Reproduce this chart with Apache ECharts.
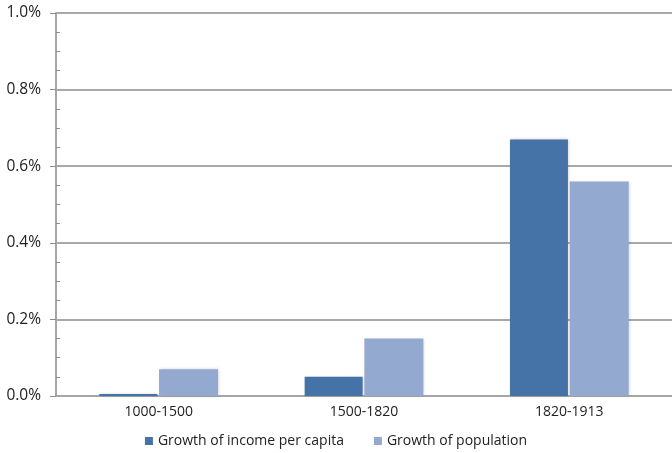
<!DOCTYPE html>
<html>
<head>
<meta charset="utf-8">
<script src="https://cdn.jsdelivr.net/npm/echarts@6/dist/echarts.min.js"></script>
<style>
  html, body { margin: 0; padding: 0; background: #fff; }
  #chart { width: 672px; height: 453px; }
</style>
</head>
<body>
<div id="chart"></div>
<script>
// Average annual growth rates by period (percent)
const periods = ['1000-1500', '1500-1820', '1820-1913'];
const incomePerCapita = [0.005, 0.05, 0.67];
const population = [0.07, 0.15, 0.56];
const seriesNames = ['Growth of income per capita', 'Growth of population'];

const font = '"Open Sans", "Liberation Sans", sans-serif';

const chart = echarts.init(document.getElementById('chart'));
chart.setOption({
  animation: false,
  textStyle: { fontFamily: font },
  grid: { left: 56, right: -3, top: 13, bottom: 57 },
  legend: {
    bottom: 0,
    left: 'center',
    itemWidth: 8,
    itemHeight: 8,
    itemGap: 30,
    icon: 'rect',
    textStyle: { fontSize: 14, color: '#222', fontFamily: font },
    data: seriesNames
  },
  xAxis: {
    type: 'category',
    data: periods,
    axisLine: { lineStyle: { color: '#a6a6a6', width: 2 } },
    axisTick: { show: false },
    axisLabel: { fontSize: 14, color: '#222', margin: 9, fontFamily: font }
  },
  yAxis: [{
    type: 'value',
    min: 0,
    max: 1.0,
    interval: 0.2,
    axisLine: { show: true, lineStyle: { color: '#a6a6a6', width: 2 } },
    axisTick: { show: true, length: 6, lineStyle: { color: '#8c8c8c' } },
    splitLine: { lineStyle: { color: '#8c8c8c', width: 1.5 } },
    axisLabel: {
      fontSize: 15.5, color: '#222', margin: 15, fontFamily: font,
      formatter: v => v.toFixed(1) + '%'
    }
  }, {
    // overlay axis carrying the inward minor ticks
    type: 'value',
    min: 0,
    max: 1.0,
    interval: 0.2,
    position: 'left',
    axisLine: { show: false },
    axisTick: { show: true, inside: true, length: 0 },
    minorTick: { show: true, splitNumber: 4, length: 4, lineStyle: { color: '#8c8c8c' } },
    splitLine: { show: false },
    axisLabel: { show: false }
  }],
  series: [{
    name: seriesNames[0],
    type: 'bar',
    data: incomePerCapita,
    barWidth: 58,
    barGap: '3%',
    itemStyle: {
      color: '#4573a7',
      shadowColor: 'rgba(0,0,0,0.18)', shadowBlur: 3, shadowOffsetX: 1, shadowOffsetY: 0
    }
  }, {
    name: seriesNames[1],
    type: 'bar',
    data: population,
    barWidth: 59,
    itemStyle: {
      color: '#94a9d0',
      shadowColor: 'rgba(0,0,0,0.18)', shadowBlur: 3, shadowOffsetX: 1, shadowOffsetY: 0
    }
  }]
});
</script>
</body>
</html>
